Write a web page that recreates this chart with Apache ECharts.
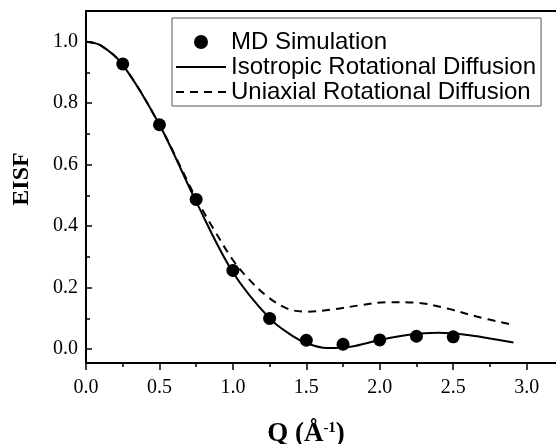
<!DOCTYPE html>
<html><head><meta charset="utf-8">
<script src="https://cdn.jsdelivr.net/npm/echarts@6/dist/echarts.min.js"></script>
<style>html,body{margin:0;padding:0;background:#fff}#c{width:556px;height:444px}</style>
</head><body><div id="c"></div>
<script>
// Data
const mdQ = [0.25, 0.5, 0.75, 1.0, 1.25, 1.5, 1.75, 2.0, 2.25, 2.5];
const mdEISF = [0.928, 0.73, 0.487, 0.256, 0.1, 0.029, 0.016, 0.03, 0.042, 0.04];
const isoQ = [0, 0.1, 0.25, 0.5, 0.75, 1.0, 1.25, 1.4, 1.5, 1.64, 1.8, 2.0, 2.2, 2.4, 2.6, 2.75, 2.91];
const isoEISF = [1.0, 0.988, 0.925, 0.73, 0.48, 0.25, 0.1, 0.045, 0.02, 0.004, 0.008, 0.03, 0.047, 0.053, 0.046, 0.035, 0.022];
const uniQ = [0, 0.1, 0.25, 0.5, 0.75, 0.87, 1.0, 1.1, 1.23, 1.37, 1.5, 1.69, 1.87, 2.05, 2.25, 2.46, 2.66, 2.88];
const uniEISF = [1.0, 0.988, 0.925, 0.73, 0.49, 0.39, 0.29, 0.232, 0.173, 0.132, 0.122, 0.13, 0.143, 0.153, 0.151, 0.132, 0.106, 0.082];
const xTicks = [0, 0.5, 1.0, 1.5, 2.0, 2.5, 3.0];
const xMinor = [0.25, 0.75, 1.25, 1.75, 2.25, 2.75];
const yTicks = [0, 0.2, 0.4, 0.6, 0.8, 1.0];
const yMinor = [0.1, 0.3, 0.5, 0.7, 0.9];
const seriesNames = ['MD Simulation', 'Isotropic Rotational Diffusion', 'Uniaxial Rotational Diffusion'];

const serif = '"Liberation Serif", "DejaVu Serif", serif';
const sans = '"Liberation Sans", Arial, sans-serif';
const XMIN = 0, XMAX = 3.2, YMIN = -0.045, YMAX = 1.1;
const hideSym = {color: 'transparent', borderWidth: 0, opacity: 0};

const chart = echarts.init(document.getElementById('c'), null, {renderer: 'canvas'});
chart.setOption({
  animation: false,
  backgroundColor: '#fff',
  grid: {left: 86, top: 11, right: 0, bottom: 81, containLabel: false, outerBoundsMode: 'none'},
  legend: {
    orient: 'vertical', left: 172, top: 18,
    data: [
      {name: seriesNames[0], icon: 'circle', itemStyle: {color: '#000', opacity: 1}},
      {name: seriesNames[1], itemStyle: hideSym},
      {name: seriesNames[2], itemStyle: hideSym}
    ],
    itemWidth: 50, itemHeight: 14, itemGap: 1,
    padding: [12, 5, 2, 3],
    borderColor: '#555', borderWidth: 1,
    textStyle: {fontFamily: sans, fontSize: 24, lineHeight: 24, color: '#000'},
    selectedMode: false
  },
  xAxis: [
    {type: 'value', min: XMIN, max: XMAX, position: 'bottom',
     name: '{q|Q (Å}{s|-1}{q|)}', nameLocation: 'middle', nameGap: 58,
     nameTextStyle: {padding: [0, 30, 0, 0], rich: {q: {fontFamily: serif, fontSize: 27, fontWeight: 'bold', color: '#000'},
                            s: {fontFamily: serif, fontSize: 15, fontWeight: 'bold', color: '#000', verticalAlign: 'top', padding:[0,0,12,0]}}},
     axisLine: {show: true, onZero: false, lineStyle: {color: '#000', width: 2}},
     axisTick: {show: true, inside: false, length: 7, customValues: xTicks, lineStyle: {color: '#000', width: 1.5}},
     axisLabel: {customValues: xTicks, margin: 15, fontFamily: serif, fontSize: 20, color: '#000', formatter: v => v.toFixed(1)},
     splitLine: {show: false}},
    {type: 'value', min: XMIN, max: XMAX, position: 'bottom',
     axisLine: {show: false, onZero: false},
     axisTick: {show: true, inside: false, length: 4, customValues: xMinor, lineStyle: {color: '#000', width: 1.5}},
     axisLabel: {show: false}, splitLine: {show: false}},
    {type: 'value', min: XMIN, max: XMAX, position: 'top',
     axisLine: {show: true, onZero: false, lineStyle: {color: '#000', width: 2}},
     axisTick: {show: false}, axisLabel: {show: false}, splitLine: {show: false}}
  ],
  yAxis: [
    {type: 'value', min: YMIN, max: YMAX, position: 'left',
     name: 'EISF', nameLocation: 'middle', nameGap: 52, nameRotate: 90,
     nameTextStyle: {fontFamily: serif, fontSize: 24, fontWeight: 'bold', color: '#000', padding: [0, 0, 0, 16]},
     axisLine: {show: true, onZero: false, lineStyle: {color: '#000', width: 2}},
     axisTick: {show: true, inside: true, length: 6, customValues: yTicks, lineStyle: {color: '#000', width: 1.5}},
     axisLabel: {customValues: yTicks, margin: 8, fontFamily: serif, fontSize: 20, color: '#000', formatter: v => v.toFixed(1)},
     splitLine: {show: false}},
    {type: 'value', min: YMIN, max: YMAX, position: 'left',
     axisLine: {show: false, onZero: false},
     axisTick: {show: true, inside: true, length: 4, customValues: yMinor, lineStyle: {color: '#000', width: 1.5}},
     axisLabel: {show: false}, splitLine: {show: false}}
  ],
  series: [
    {name: seriesNames[0], type: 'scatter', symbol: 'circle', symbolSize: 13,
     itemStyle: {color: '#000', opacity: 1}, z: 5,
     data: mdQ.map((q, i) => [q, mdEISF[i]])},
    {name: seriesNames[1], type: 'line', smooth: 0.35, showSymbol: false, symbol: 'none',
     lineStyle: {color: '#000', width: 2}, itemStyle: {color: '#000'},
     data: isoQ.map((q, i) => [q, isoEISF[i]])},
    {name: seriesNames[2], type: 'line', smooth: 0.35, showSymbol: false, symbol: 'none',
     lineStyle: {color: '#000', width: 2, type: [8, 6]}, itemStyle: {color: '#000'},
     data: uniQ.map((q, i) => [q, uniEISF[i]])}
  ]
});
</script></body></html>
